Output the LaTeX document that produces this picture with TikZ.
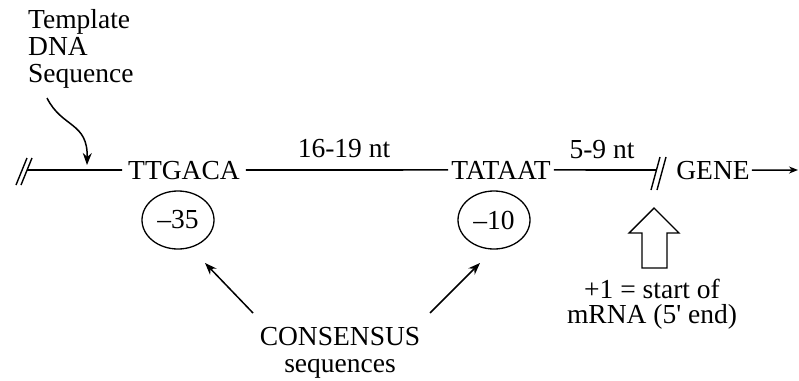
\documentclass[tikz,border=0pt]{standalone}
\usepackage{fontspec}
\setmainfont{Liberation Serif}
\usetikzlibrary{shapes.geometric,arrows.meta}
\tikzset{
  lbl/.style={font=\fontsize{27.5}{28}\selectfont, inner sep=0pt},
  dnaline/.style={line width=1.6pt},
  tick/.style={line width=1.4pt},
  oval/.style={ellipse, draw, line width=1.3pt, minimum width=72pt, minimum height=58pt, inner sep=0pt, font=\fontsize{27.5}{28}\selectfont},
  arr/.style={line width=1.5pt, -{Stealth[length=12pt,width=9pt]}},
  genearr/.style={line width=1.5pt, -{Stealth[length=9pt,width=7pt]}},
  hollow/.style={line width=1.4pt, line join=miter},
}
\begin{document}
\begin{tikzpicture}[x=1pt,y=-1pt]
\useasboundingbox (0,0) rectangle (799,380);
% template label and its arrow
\node[lbl, anchor=north west, align=left, font=\fontsize{27.5}{27}\selectfont] (tmpl) at (28,9) {Template\\DNA\\Sequence};
\coordinate (c0) at (47,98);
\coordinate (tip0) at (87,165);
\draw[arr] (c0) .. controls (62,128) and (88,122) .. (tip0);
% main DNA line
\coordinate (L0) at (27,170);
\node[lbl, anchor=base, inner xsep=6pt] (ttg) at (184,179) {TTGACA};
\node[lbl, anchor=base, inner xsep=3pt] (tat) at (501,179) {TATAAT};
\node[lbl, anchor=base, inner xsep=2pt] (gene) at (713,179) {GENE};
\coordinate (R0) at (656,170);
\coordinate (E0) at (798,170);
\draw[dnaline] (L0) -- (ttg.west);
\draw[dnaline] (ttg.east) -- (tat.west);
\draw[dnaline] (tat.east) -- (R0);
\draw[genearr] (gene.east) -- (E0);
% break marks
\draw[tick] (16,185) -- (27,158) (21,185) -- (32,158);
\draw[tick] (651,190) -- (660,157) (657,190) -- (666,157);
% spacing labels
\node[lbl, anchor=base] (n1619) at (344,157) {16-19 nt};
\node[lbl, anchor=base] (n59) at (602,158) {5-9 nt};
% ovals
\node[oval] (m35) at (178,220) {–35};
\node[oval] (m10) at (494,220) {–10};
% consensus
\node[lbl, anchor=north, align=center, font=\fontsize{27.5}{27}\selectfont] (cons) at (340,327) {CONSENSUS\\sequences};
\coordinate (a1s) at (253,313);
\coordinate (a1e) at (205,263);
\coordinate (a2s) at (430,313);
\coordinate (a2e) at (480,263);
\draw[arr] (a1s) -- (a1e);
\draw[arr] (a2s) -- (a2e);
% hollow arrow (+1 site)
\draw[hollow] (654,208) -- (679,233) -- (667,233) -- (667,268) -- (642,268) -- (642,233) -- (629,233) -- cycle;
\node[lbl, anchor=north, align=center, font=\fontsize{27.5}{25}\selectfont] (plus1) at (652,279) {+1 = start of\\mRNA (5\textquotesingle{} end)};
\end{tikzpicture}
\end{document}
